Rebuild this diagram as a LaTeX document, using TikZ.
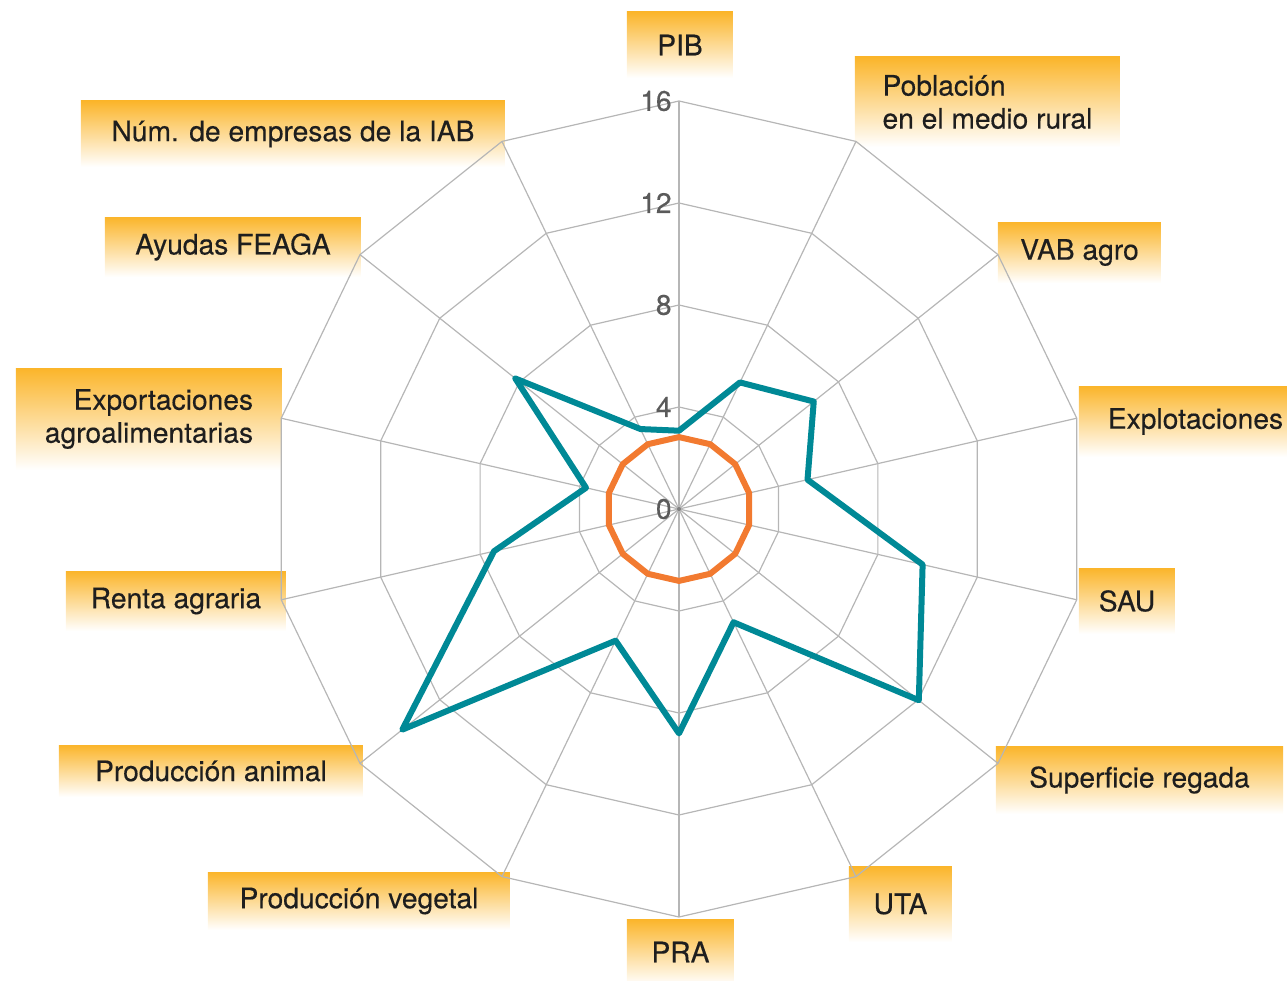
\documentclass[tikz,border=0pt]{standalone}
\usepackage{fontspec}
\setmainfont[FakeBold=0.3]{TeX Gyre Heros}
\definecolor{etiqueta}{RGB}{251,181,42}
\definecolor{serieA}{RGB}{0,137,150}
\definecolor{serieB}{RGB}{242,122,48}
\definecolor{rejilla}{RGB}{182,182,182}
\definecolor{cifra}{RGB}{90,90,90}
\definecolor{texto}{RGB}{30,30,30}
\begin{document}
\begin{tikzpicture}[x=0.5pt, y=0.5pt, font=\fontsize{14.1}{16.5}\selectfont, declare function={u=25.5;paso=360/14;},
	etiq/.style={top color=etiqueta, bottom color=white, inner sep=0pt, text=texto},
	rejilla/.style={draw=rejilla, line width=0.6pt},
	serie/.style={line width=3pt, line join=round}]
			\useasboundingbox (-679,-472) rectangle (608,509);
			% etiquetas de los ejes
			\node[etiq, minimum width=53pt, minimum height=33pt] (pib) at (1,464) {PIB};
			\node[etiq, minimum width=132.5pt, minimum height=45pt, align=left] (pob) at (308.5,407) {Población\\en el medio rural};
			\node[etiq, minimum width=81.5pt, minimum height=30.5pt] (vab) at (400.5,256.5) {VAB agro};
			\node[etiq, minimum width=116.5pt, minimum height=35.5pt] (expl) at (516.5,87.5) {Explotaciones};
			\node[etiq, minimum width=48pt, minimum height=33pt] (sau) at (448,-92) {SAU};
			\node[etiq, minimum width=143.5pt, minimum height=34pt] (reg) at (460.5,-271) {Superficie regada};
			\node[etiq, minimum width=51.5pt, minimum height=38pt] (uta) at (221.5,-395) {UTA};
			\node[etiq, minimum width=53.5pt, minimum height=33pt] (pra) at (1.5,-443) {PRA};
			\node[etiq, minimum width=151pt, minimum height=29pt] (veg) at (-320,-392) {Producción vegetal};
			\node[etiq, minimum width=152pt, minimum height=26pt] (ani) at (-468,-262) {Producción animal};
			\node[etiq, minimum width=110pt, minimum height=30pt] (renta) at (-503,-92) {Renta agraria};
			\node[etiq, minimum width=133pt, minimum height=51pt, align=right] (export) at (-530,90) {Exportaciones\\agroalimentarias};
			\node[etiq, minimum width=128pt, minimum height=30pt] (feaga) at (-446,262) {Ayudas FEAGA};
			\node[etiq, minimum width=212pt, minimum height=33pt] (iab) at (-386,375) {Núm. de empresas de la IAB};
			% rejilla
			\foreach \v in {4,8,12,16}
				\draw[rejilla] (90:\v*u) \foreach \k in {1,...,13} {-- (90-\k*paso:\v*u)} -- cycle;
			\foreach \k in {1,...,13}
				\draw[rejilla] (0,0) -- (90-\k*paso:16*u);
			\draw[draw=rejilla, line width=1pt] (0,0) -- (90:16*u);
			\fill[rejilla!70!black] (0,0) circle (1pt);
			% series
			\draw[serie, draw=serieB] (90:2.82*u) \foreach \k in {1,...,13} {-- (90-\k*paso:2.82*u)} -- cycle;
			\draw[serie, draw=serieA] (90:3.07*u) \foreach \v [count=\k] in {5.51,6.76,5.17,9.8,12.03,4.93,8.8,5.73,13.88,7.44,3.74,8.21,3.48} {-- (90-\k*paso:\v*u)} -- cycle;
			% escala
			\foreach \v in {0,4,...,16}
				\node[text=cifra, anchor=east, inner sep=0pt] (n\v) at (-7,\v*u) {\v};
		\end{tikzpicture}
\end{document}
